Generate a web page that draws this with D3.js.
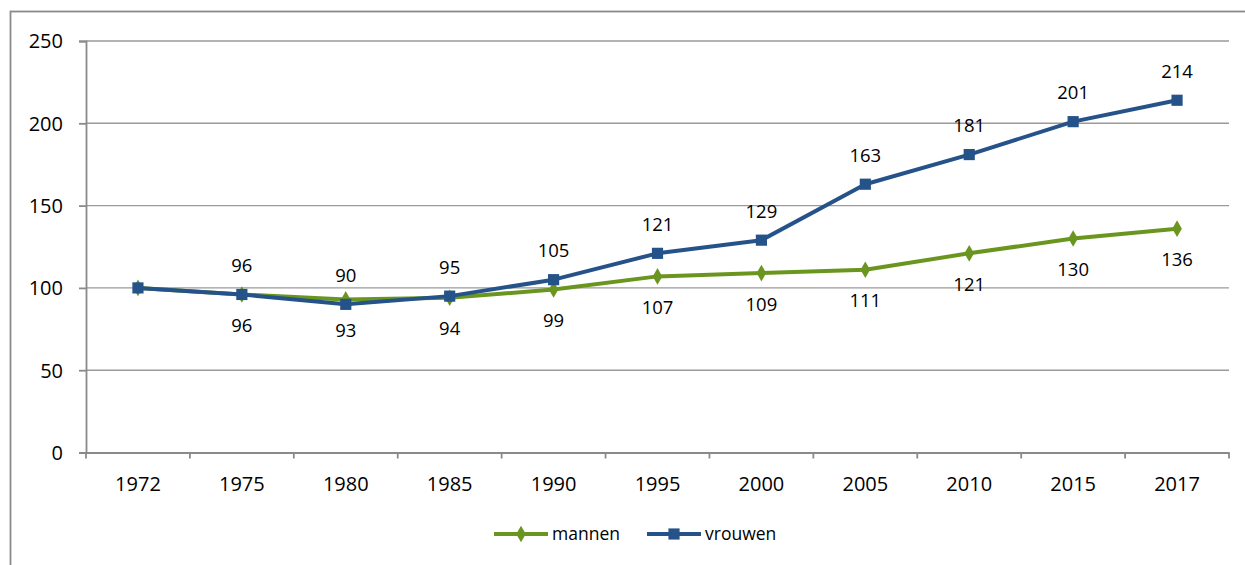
<!DOCTYPE html>
<html><head><meta charset="utf-8">
<script src="https://cdn.jsdelivr.net/npm/d3@7"></script>
<style>body{margin:0;background:#fff}svg{display:block}text{font-family:"Open Sans",sans-serif;fill:#000}</style>
</head><body>
<svg id="c" width="1245" height="565"></svg>
<script>
const years = ["1972","1975","1980","1985","1990","1995","2000","2005","2010","2015","2017"];
const mannen = [100,96,93,94,99,107,109,111,121,130,136];
const vrouwen = [100,96,90,95,105,121,129,163,181,201,214];
const yTicks = [0,50,100,150,200,250];
const seriesNames = ["mannen","vrouwen"];
const colors = ["#6a961f","#255389"];

const svg = d3.select("#c");
const L=86,R=1229,T=41,B=452.5;
svg.append("rect").attr("x",10.5).attr("y",11.5).attr("width",1400).attr("height",700)
  .attr("fill","none").attr("stroke","#8a8a8a").attr("stroke-width",1.8);

const x = d3.scaleBand().domain(years).range([L,R]);
const y = d3.scaleLinear().domain([0,250]).range([B,T]);

// gridlines
svg.append("g").selectAll("line").data(yTicks.slice(1)).join("line")
  .attr("x1",L).attr("x2",R).attr("y1",d=>y(d)).attr("y2",d=>y(d))
  .attr("stroke","#9a9a9a").attr("stroke-width",1.4);

// y axis
const ya = svg.append("g").attr("transform",`translate(${L},0)`)
  .call(d3.axisLeft(y).tickValues(yTicks).tickSize(7).tickPadding(16));
ya.select(".domain").attr("stroke","#8a8a8a").attr("stroke-width",1.8);
ya.selectAll(".tick line").attr("stroke","#8a8a8a").attr("stroke-width",1.8);
ya.selectAll("text").attr("font-size",20).attr("font-family","Open Sans").attr("dy","0.34em");

// x axis
const xa = svg.append("g").attr("transform",`translate(0,${B})`)
  .call(d3.axisBottom(x).tickSize(0).tickPadding(24));
xa.select(".domain").attr("stroke","#8a8a8a").attr("stroke-width",1.8);
xa.selectAll("text").attr("font-size",20).attr("font-family","Open Sans");
svg.append("g").selectAll("line").data(d3.range(years.length+1)).join("line")
  .attr("x1",i=>L+i*x.step()).attr("x2",i=>L+i*x.step())
  .attr("y1",B).attr("y2",B+6).attr("stroke","#8a8a8a").attr("stroke-width",1.8);

const cx = d=>x(d)+x.bandwidth()/2;
const line = d3.line().x((d,i)=>cx(years[i])).y(d=>y(d));
const data=[mannen,vrouwen];
data.forEach((s,k)=>{
  svg.append("path").datum(s).attr("d",line).attr("fill","none")
    .attr("stroke",colors[k]).attr("stroke-width",4).attr("stroke-linejoin","round");
});
// markers
const sym = [d3.symbolDiamond, d3.symbolSquare];
const sz = [80, 125];
data.forEach((s,k)=>{
  svg.append("g").selectAll("path").data(s).join("path")
    .attr("transform",(d,i)=>`translate(${cx(years[i])},${y(d)})`)
    .attr("d",d3.symbol(sym[k],sz[k])).attr("fill",colors[k]);
});
// labels
const lab = svg.append("g").attr("font-size",18.5).attr("text-anchor","middle");
mannen.forEach((d,i)=>{ if(i===0) return;
  lab.append("text").attr("x",cx(years[i])).attr("y",y(d)+31).attr("dy","0.35em").text(d);});
vrouwen.forEach((d,i)=>{ if(i===0) return;
  lab.append("text").attr("x",cx(years[i])).attr("y",y(d)-29).attr("dy","0.35em").text(d);});

// legend
const lg = svg.append("g");
const lx=[494,647], ly=534;
seriesNames.forEach((n,k)=>{
  lg.append("line").attr("x1",lx[k]).attr("x2",lx[k]+54).attr("y1",ly).attr("y2",ly)
    .attr("stroke",colors[k]).attr("stroke-width",4);
  lg.append("path").attr("transform",`translate(${lx[k]+27},${ly})`)
    .attr("d",d3.symbol(sym[k],sz[k])).attr("fill",colors[k]);
  lg.append("text").attr("x",lx[k]+58).attr("y",ly).attr("dy","0.35em")
    .attr("font-size",17.5).text(n);
});
</script>
</body></html>
